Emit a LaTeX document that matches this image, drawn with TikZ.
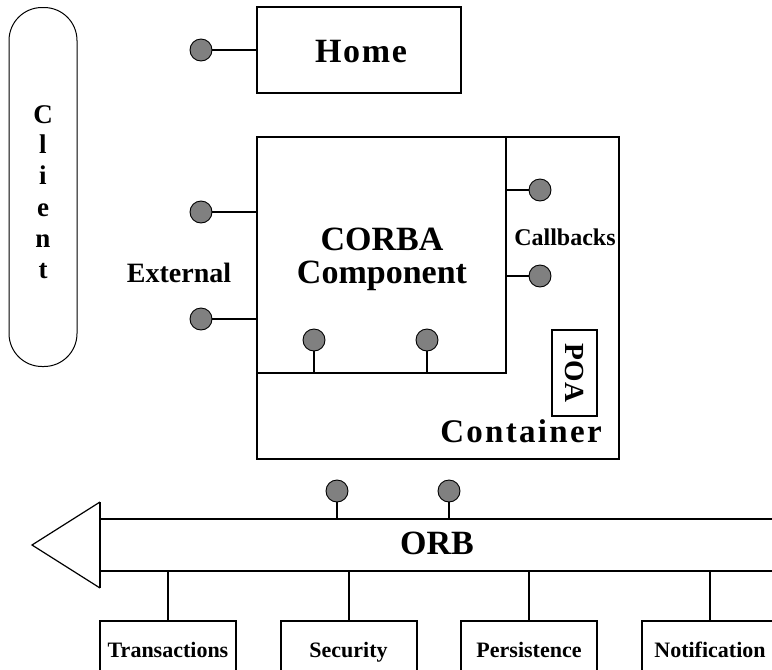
\documentclass[tikz,border=0pt]{standalone}
\usepackage{fontspec}
\setmainfont{Liberation Serif}
\definecolor{dotgray}{RGB}{128,128,128}
\newcommand{\fs}[1]{\fontsize{#1pt}{#1pt}\selectfont\bfseries}
\begin{document}
\begin{tikzpicture}[x=1pt,y=-1pt,
  box/.style={draw=black,line width=2pt,inner sep=0pt},
  port/.style={circle,draw=black,line width=0.9pt,fill=dotgray,minimum size=22pt,inner sep=0pt},
  wire/.style={draw=black,line width=2pt},
  lbl/.style={inner sep=0pt,text=black}]
\useasboundingbox (0,0) rectangle (772,670);
\clip (0,0) rectangle (772,670);
% Client
\node[draw=black,line width=1pt,rounded corners=33pt,minimum width=68pt,minimum height=359pt,inner sep=0pt] (client) at (43,187) {};
\foreach \ch/\yy [count=\i] in {C/123,l/153,i/184,e/216,n/247,t/278}
  \node[lbl,anchor=base,font=\fs{27}] (cl\i) at (43,\yy) {\ch};
% Home
\node[box,minimum width=204pt,minimum height=86pt] (home) at (359,50) {};
\node[lbl,font=\fs{34}] (hometext) at (361,52) {\addfontfeature{LetterSpace=5}Home};
\node[port] (hdot) at (201,50) {};
\draw[wire] (hdot.east) -- (home.west);
% Container and component
\node[box,minimum width=362pt,minimum height=322pt] (container) at (438,298) {};
\node[box,minimum width=249pt,minimum height=236pt] (component) at (381.5,255) {};
\node[lbl,align=center,font=\fs{34},text depth=0pt] (corba) at (382,256) {CORBA\\[-0.9pt]Component};
\node[lbl,font=\fs{24}] (callbacks) at (565,237) {Callbacks};
\node[port] (cb1) at (540,190) {};
\node[port] (cb2) at (540,276) {};
\draw[wire] (component.east |- cb1) -- (cb1.west);
\draw[wire] (component.east |- cb2) -- (cb2.west);
\node[port] (bd1) at (314,340) {};
\node[port] (bd2) at (427,340) {};
\draw[wire] (bd1.south) -- (bd1.south |- component.south);
\draw[wire] (bd2.south) -- (bd2.south |- component.south);
\node[box,minimum width=45pt,minimum height=86pt] (poa) at (574.5,373) {};
\node[lbl,rotate=-90,font=\fs{27.6}] (poatext) at (poa.center) {POA};
\node[lbl,anchor=base,font=\fs{33}] (contlbl) at (521,442) {\addfontfeature{LetterSpace=7}Container};
% External
\node[port] (ex1) at (201,212) {};
\node[port] (ex2) at (201,319) {};
\draw[wire] (ex1.east) -- (ex1.east -| container.west);
\draw[wire] (ex2.east) -- (ex2.east -| container.west);
\node[lbl,font=\fs{28}] (external) at (179,273) {External};
% ORB
\coordinate (tipl) at (32,545);
\coordinate (tipt) at (100,502);
\coordinate (tipb) at (100,588);
\coordinate (orbtl) at (100,519);
\coordinate (orbtr) at (772,519);
\coordinate (orbbl) at (100,571);
\coordinate (orbbr) at (772,571);
\draw[black,line width=1.2pt] (tipt) -- (tipl) -- (tipb);
\draw[wire] (tipt) -- (tipb);
\draw[wire] (orbtl) -- (orbtr);
\draw[wire] (orbbl) -- (orbbr);
\node[lbl,font=\fs{34}] (orb) at (437,543) {ORB};
\node[port] (od1) at (337,491) {};
\node[port] (od2) at (449,491) {};
\draw[wire] (od1.south) -- (od1.south |- orbtl);
\draw[wire] (od2.south) -- (od2.south |- orbtl);
% Services
\foreach \nm/\cx/\txt in {trans/168/Transactions,sec/348.5/Security,pers/529/Persistence,notif/710/Notification}{
  \node[box,minimum width=136pt,minimum height=80pt,anchor=north] (\nm) at (\cx,620) {};
  \node[lbl,anchor=base,font=\fs{22}] (\nm t) at (\cx,657) {\txt};
  \draw[wire] (\nm.north |- orbbl) -- (\nm.north);
}
\end{tikzpicture}
\end{document}
